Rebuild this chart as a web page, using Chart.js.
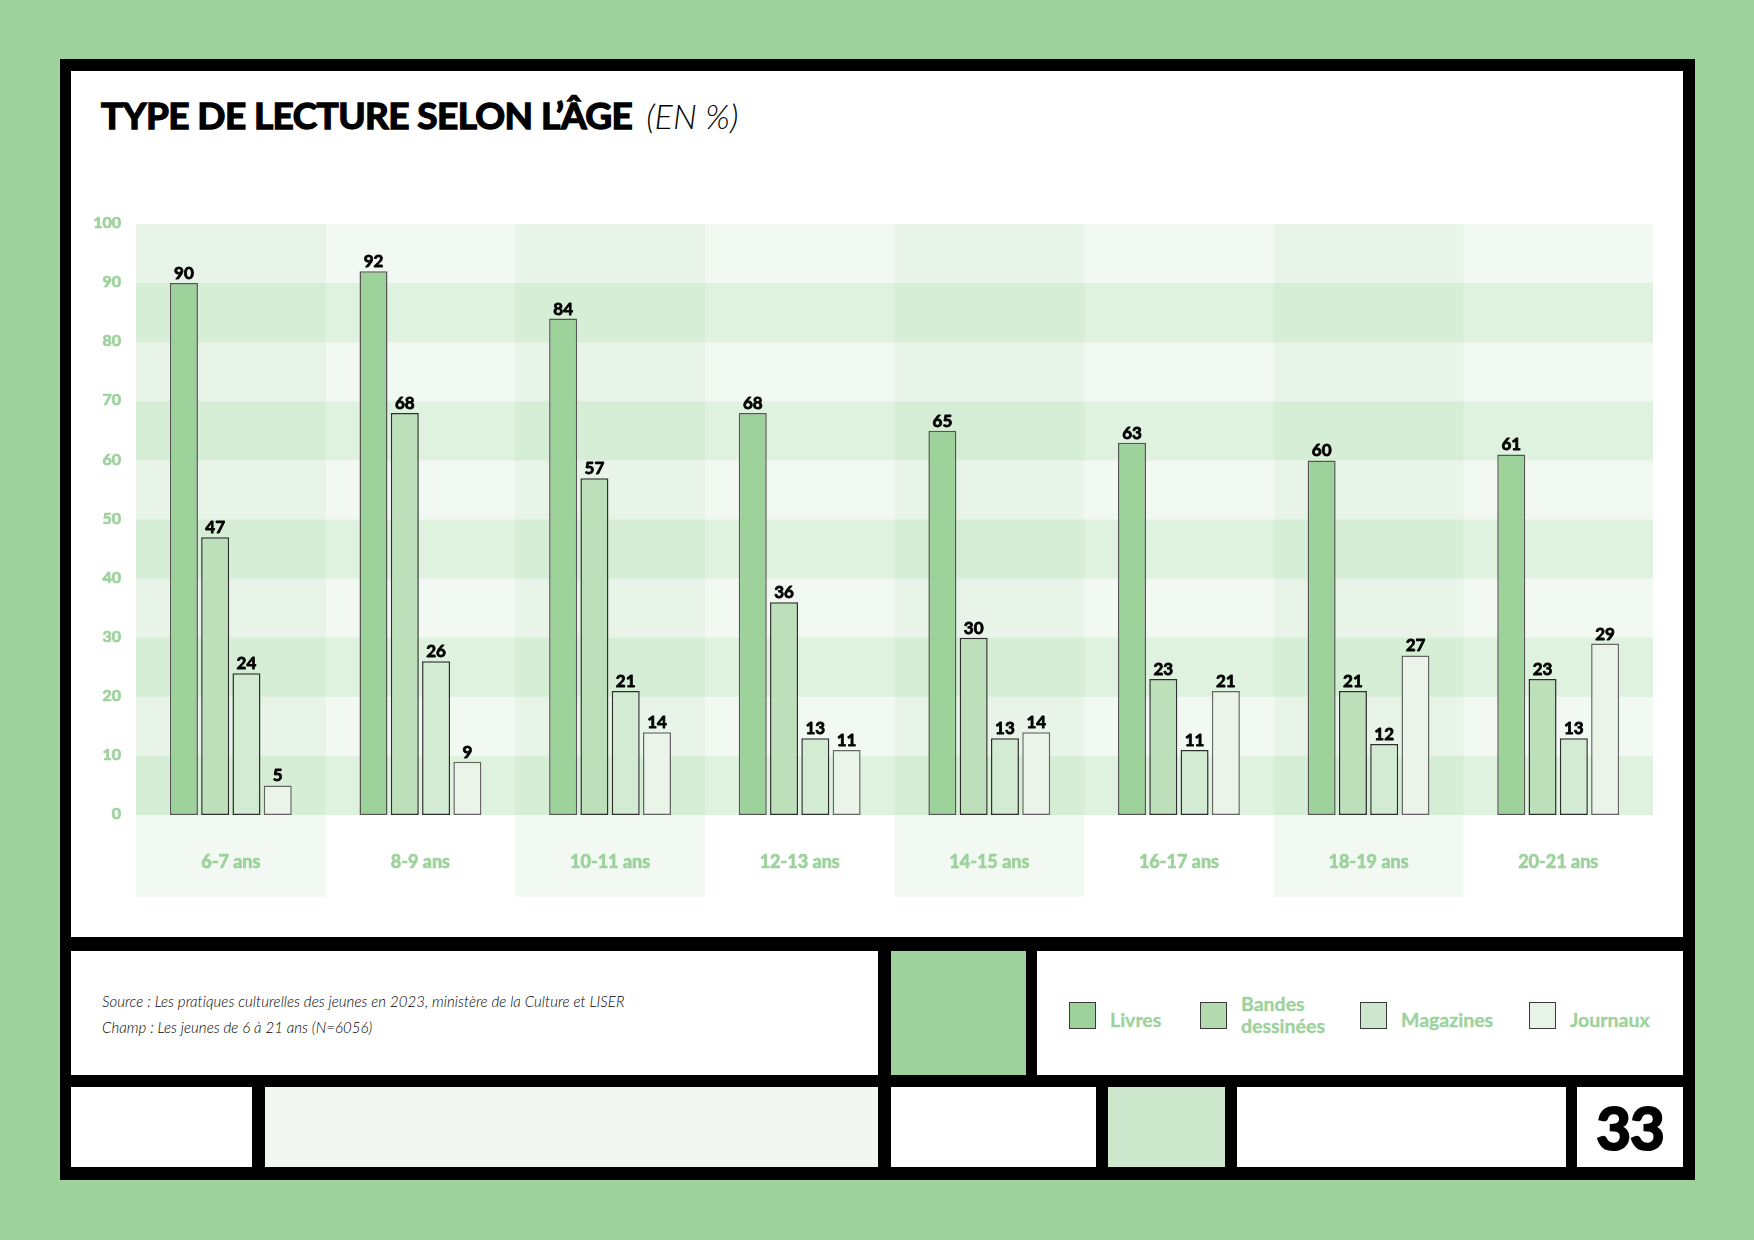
<!DOCTYPE html>
<html>
<head>
<meta charset="utf-8">
<script src="https://cdn.jsdelivr.net/npm/chart.js@4.4.1/dist/chart.umd.min.js"></script>
<style>
  html, body { margin:0; padding:0; }
  body { width:1754px; height:1240px; background:#9dd29c; position:relative; overflow:hidden; font-family: Lato, "Open Sans", sans-serif; }
  .abs { position:absolute; }
  .blk { background:#000; }
  .wht { background:#fff; }
  #title { left:101px; top:92px; font-family:Lato; font-weight:700; font-size:37px; color:#000; white-space:nowrap; letter-spacing:-0.6px; -webkit-text-stroke:1.4px #000; }
  #title span { font-weight:300; font-style:italic; font-size:34px; margin-left:14px; letter-spacing:0; -webkit-text-stroke:0; }
  #source { left:102px; top:988px; font-family:Lato; font-style:italic; font-weight:300; font-size:15px; line-height:26px; color:#000; letter-spacing:0.05px; white-space:nowrap; }
  .lg-box { position:absolute; width:25px; height:25px; border:1.5px solid #3a3a3a; top:1002px; }
  .lg-txt { position:absolute; color:#9dd29c; font-family:Lato; font-weight:700; font-size:19.5px; line-height:22px; white-space:nowrap; -webkit-text-stroke:0.3px #9dd29c; }
  #pagenum { left:1577px; top:1087px; width:106px; height:80px; font-family:Lato; font-weight:700; font-size:60px; line-height:80px; text-align:center; color:#000; letter-spacing:-1px; -webkit-text-stroke:2.2px #000; }
</style>
</head>
<body>
<div class="abs blk" style="left:60px;top:59px;width:1635px;height:1121px;"></div>
<div class="abs wht" style="left:71px;top:71px;width:1612px;height:866px;"></div>
<!-- middle row -->
<div class="abs wht" style="left:71px;top:951px;width:807px;height:124px;"></div>
<div class="abs" style="left:891px;top:951px;width:135px;height:124px;background:#9dd29c;"></div>
<div class="abs wht" style="left:1037px;top:951px;width:646px;height:124px;"></div>
<!-- bottom row -->
<div class="abs wht" style="left:71px;top:1087px;width:181px;height:80px;"></div>
<div class="abs" style="left:265px;top:1087px;width:613px;height:80px;background:#f2f7f1;"></div>
<div class="abs wht" style="left:891px;top:1087px;width:205px;height:80px;"></div>
<div class="abs" style="left:1108px;top:1087px;width:117px;height:80px;background:#cde7cc;"></div>
<div class="abs wht" style="left:1237px;top:1087px;width:329px;height:80px;"></div>
<div class="abs wht" id="pagenum">33</div>

<div class="abs" id="title">TYPE DE LECTURE SELON L’ÂGE<span>(EN %)</span></div>

<canvas id="c" class="abs" width="1612" height="747" style="left:71px;top:190px;width:1612px;height:747px;"></canvas>

<div class="abs" id="source">Source : Les pratiques culturelles des jeunes en 2023, ministère de la Culture et LISER<br>Champ : Les jeunes de 6 à 21 ans (N=6056)</div>

<div id="legend"></div>

<script>
const categories = ['6-7 ans', '8-9 ans', '10-11 ans', '12-13 ans', '14-15 ans', '16-17 ans', '18-19 ans', '20-21 ans'];
const seriesNames = ['Livres', 'Bandes dessinées', 'Magazines', 'Journaux'];
const livres = [90, 92, 84, 68, 65, 63, 60, 61];
const bandesDessinees = [47, 68, 57, 36, 30, 23, 21, 23];
const magazines = [24, 26, 21, 13, 13, 11, 12, 13];
const journaux = [5, 9, 14, 11, 14, 21, 27, 29];
const yTickValues = [0, 10, 20, 30, 40, 50, 60, 70, 80, 90, 100];

const seriesValues = [livres, bandesDessinees, magazines, journaux];
const fillColors = ['#9dd29b', '#bde0ba', '#d4ebd3', '#eaf4e9'];
const borderColors = ['#555555', '#2e2e2e', '#2e2e2e', '#666666'];
const legendColors = ['#9ed29c', '#b2dbb0', '#cde7cc', '#e7f3e6'];

// HTML legend built from series names
const legendLeft = [1069, 1200, 1360, 1529];
const legendEl = document.getElementById('legend');
seriesNames.forEach((name, i) => {
  const b = document.createElement('div');
  b.className = 'lg-box';
  b.style.left = legendLeft[i] + 'px';
  b.style.background = legendColors[i];
  legendEl.appendChild(b);
  const t = document.createElement('div');
  t.className = 'lg-txt';
  t.style.left = (legendLeft[i] + 41) + 'px';
  if (name === 'Bandes dessinées') {
    t.innerHTML = 'Bandes<br>dessinées';
    t.style.top = '993px';
  } else {
    t.textContent = name;
    t.style.top = '1009px';
  }
  legendEl.appendChild(t);
});

const G = '157,210,156';
const bandsPlugin = {
  id: 'bands',
  beforeDatasetsDraw(chart) {
    const { ctx, chartArea: a, scales: { x, y } } = chart;
    const n = categories.length;
    const w = (a.right - a.left) / n;
    ctx.save();
    ctx.fillStyle = `rgba(${G},0.13)`;
    for (let i = 0; i < n; i += 2) {
      const cx = x.getPixelForValue(i);
      ctx.fillRect(cx - w / 2, a.top, w, a.bottom - a.top + 82);
    }
    ctx.fillStyle = `rgba(${G},0.13)`;
    ctx.fillRect(a.left, a.top, a.right - a.left, a.bottom - a.top);
    ctx.fillStyle = `rgba(${G},0.22)`;
    for (let k = 0; k < yTickValues.length - 1; k += 2) {
      const y0 = y.getPixelForValue(yTickValues[k]);
      const y1 = y.getPixelForValue(yTickValues[k + 1]);
      ctx.fillRect(a.left, y1, a.right - a.left, y0 - y1);
    }
    ctx.restore();
  }
};

const labelsPlugin = {
  id: 'vlabels',
  afterDatasetsDraw(chart) {
    const { ctx } = chart;
    ctx.save();
    ctx.font = '700 17px Lato';
    ctx.fillStyle = '#000';
    ctx.strokeStyle = '#000';
    ctx.lineWidth = 0.8;
    ctx.lineJoin = 'round';
    ctx.textAlign = 'center';
    ctx.textBaseline = 'alphabetic';
    chart.data.datasets.forEach((ds, di) => {
      const meta = chart.getDatasetMeta(di);
      meta.data.forEach((bar, i) => {
        const s = String(ds.data[i]);
        ctx.strokeText(s, bar.x, bar.y - 4);
        ctx.fillText(s, bar.x, bar.y - 4);
      });
    });
    ctx.restore();
  }
};

new Chart(document.getElementById('c'), {
  type: 'bar',
  data: {
    labels: categories,
    datasets: seriesNames.map((name, i) => ({
      label: name,
      data: seriesValues[i],
      backgroundColor: fillColors[i],
      borderColor: borderColors[i],
      borderWidth: 1.5,
      borderSkipped: false,
      categoryPercentage: 0.66,
      barPercentage: 0.895
    }))
  },
  options: {
    responsive: false,
    devicePixelRatio: 1,
    animation: false,
    layout: { padding: { left: 0, right: 30, top: 34, bottom: 0 } },
    plugins: { legend: { display: false }, tooltip: { enabled: false }, title: { display: false } },
    scales: {
      x: {
        grid: { display: false, drawTicks: false },
        border: { display: false },
        ticks: { color: '#9dd29c', font: { family: 'Lato', weight: '700', size: 18 }, padding: 36, maxRotation: 0,
                 textStrokeColor: '#9dd29c', textStrokeWidth: 0.7 },
        afterFit(s) { s.height = 122; }
      },
      y: {
        min: 0, max: 100,
        grid: { display: false, drawTicks: false },
        border: { display: false },
        afterBuildTicks(s) { s.ticks = yTickValues.map(v => ({ value: v })); },
        ticks: { color: '#9dd29c', font: { family: 'Lato', weight: '700', size: 16 }, padding: 15, labelOffset: -1,
                 textStrokeColor: '#9dd29c', textStrokeWidth: 0.7 },
        afterFit(s) { s.width = 65; }
      }
    }
  },
  plugins: [bandsPlugin, labelsPlugin]
});
</script>
</body>
</html>
